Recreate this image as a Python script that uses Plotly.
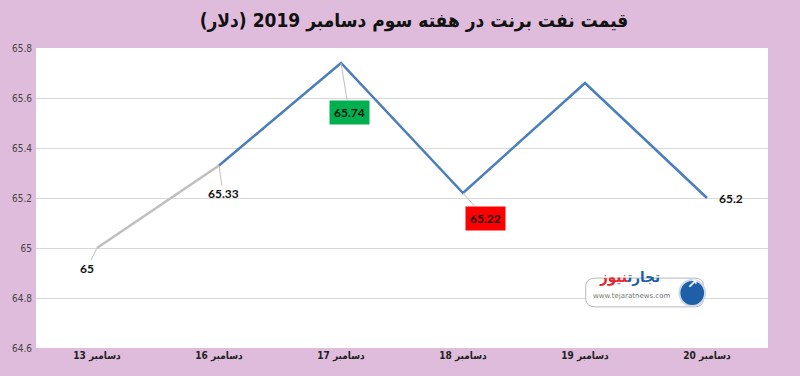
import plotly.graph_objects as go

categories = ["13 دسامبر", "16 دسامبر", "17 دسامبر", "18 دسامبر", "19 دسامبر", "20 دسامبر"]
prices = [65.0, 65.33, 65.74, 65.22, 65.66, 65.2]
label_texts = ["65", "65.33", "65.74", "65.22", "65.66", "65.2"]
y_ticks = [64.6, 64.8, 65.0, 65.2, 65.4, 65.6, 65.8]
y_tick_text = ["64.6", "64.8", "65", "65.2", "65.4", "65.6", "65.8"]

title = "قیمت نفت برنت در هفته سوم دسامبر 2019 (دلار)"
BG = "#e0bcdc"
BLUE = "#4a7ebb"
GRAY = "#bfbfbf"

fig = go.Figure()
fig.add_trace(go.Scatter(x=categories[:2], y=prices[:2], mode="lines",
                         line=dict(color=GRAY, width=2.5), hoverinfo="skip"))
fig.add_trace(go.Scatter(x=categories[1:], y=prices[1:], mode="lines",
                         line=dict(color=BLUE, width=2.5), hoverinfo="skip"))

label_style = [
    # (index, ax, ay, bgcolor, arrow)
    (0, -10, 20, None, True),
    (1, 4, 28, None, True),
    (2, 8, 49, "#00b050", True),
    (3, 22, 25, "#ff0000", True),
    (5, 24, 0, None, False),
]
for i, ax, ay, bg, arrow in label_style:
    fig.add_annotation(
        x=categories[i], y=prices[i], xref="x", yref="y",
        text="<b>" + label_texts[i] + "</b>",
        showarrow=True, arrowhead=0, arrowwidth=1,
        arrowcolor=GRAY if arrow else "rgba(0,0,0,0)",
        ax=ax, ay=ay, standoff=0,
        font=dict(family="Lato, DejaVu Sans", size=12, color="#111111"),
        bgcolor=bg if bg else "rgba(0,0,0,0)",
        borderpad=4 if bg else 0,
    )

# watermark logo
fig.add_shape(type="path", xref="paper", yref="paper",
              path="M 0.765 0.137 L 0.90 0.137 Q 0.912 0.137 0.912 0.165 L 0.912 0.205 "
                   "Q 0.912 0.233 0.90 0.233 L 0.765 0.233 Q 0.751 0.233 0.751 0.205 "
                   "L 0.751 0.165 Q 0.751 0.137 0.765 0.137 Z",
              line=dict(color="#b8b8b8", width=1), fillcolor="white", layer="above")
fig.add_shape(type="circle", xref="paper", yref="paper",
              x0=0.879, x1=0.914, y0=0.14, y1=0.227,
              line=dict(color="#cfd8e6", width=2), fillcolor="#1f5fa8", layer="above")
fig.add_annotation(x=0.886, y=0.1835, xref="paper", yref="paper", xanchor="left",
                   text="<b>↗</b>", showarrow=False,
                   font=dict(family="DejaVu Sans", size=13, color="white"))
fig.add_annotation(
    x=0.767, y=0.2, xref="paper", yref="paper", xanchor="left",
    text="<b><span style='color:#1f5fa8'>تجارت</span><span style='color:#e3262b'>نیوز</span></b>",
    showarrow=False, font=dict(family="DejaVu Sans Condensed, DejaVu Sans", size=15),
)
fig.add_annotation(
    x=0.758, y=0.155, xref="paper", yref="paper", xanchor="left",
    text="www.tejaratnews.com",
    showarrow=False, font=dict(family="DejaVu Sans", size=7, color="#777777"),
)

fig.update_layout(
    width=800, height=376,
    paper_bgcolor=BG, plot_bgcolor="white",
    margin=dict(l=33, r=32, t=48, b=28),
    showlegend=False,
    title=dict(text="<b>" + title + "</b>", x=0.5175, xanchor="center", y=0.945, yanchor="middle",
               font=dict(family="DejaVu Sans Condensed, DejaVu Sans", size=19, color="#111111")),
    xaxis=dict(type="category", range=[-0.5, 5.5], showgrid=False, showline=False,
               zeroline=False, ticks="", fixedrange=True,
               tickfont=dict(family="DejaVu Sans Condensed, DejaVu Sans", size=10, color="#222222"),
               tickvals=categories, ticktext=["<b>" + c + "</b>" for c in categories]),
    yaxis=dict(range=[64.6, 65.8], tickvals=y_ticks, ticktext=y_tick_text,
               showgrid=True, gridcolor="#d9d9d9", gridwidth=1, zeroline=False,
               showline=False, ticks="", ticklabelstandoff=3,
               tickfont=dict(family="DejaVu Sans Condensed, DejaVu Sans", size=10, color="#444444")),
)

fig.write_html("out.html", config={"displayModeBar": False},
               post_script="document.body.style.margin='0';document.body.style.overflow='hidden';")
